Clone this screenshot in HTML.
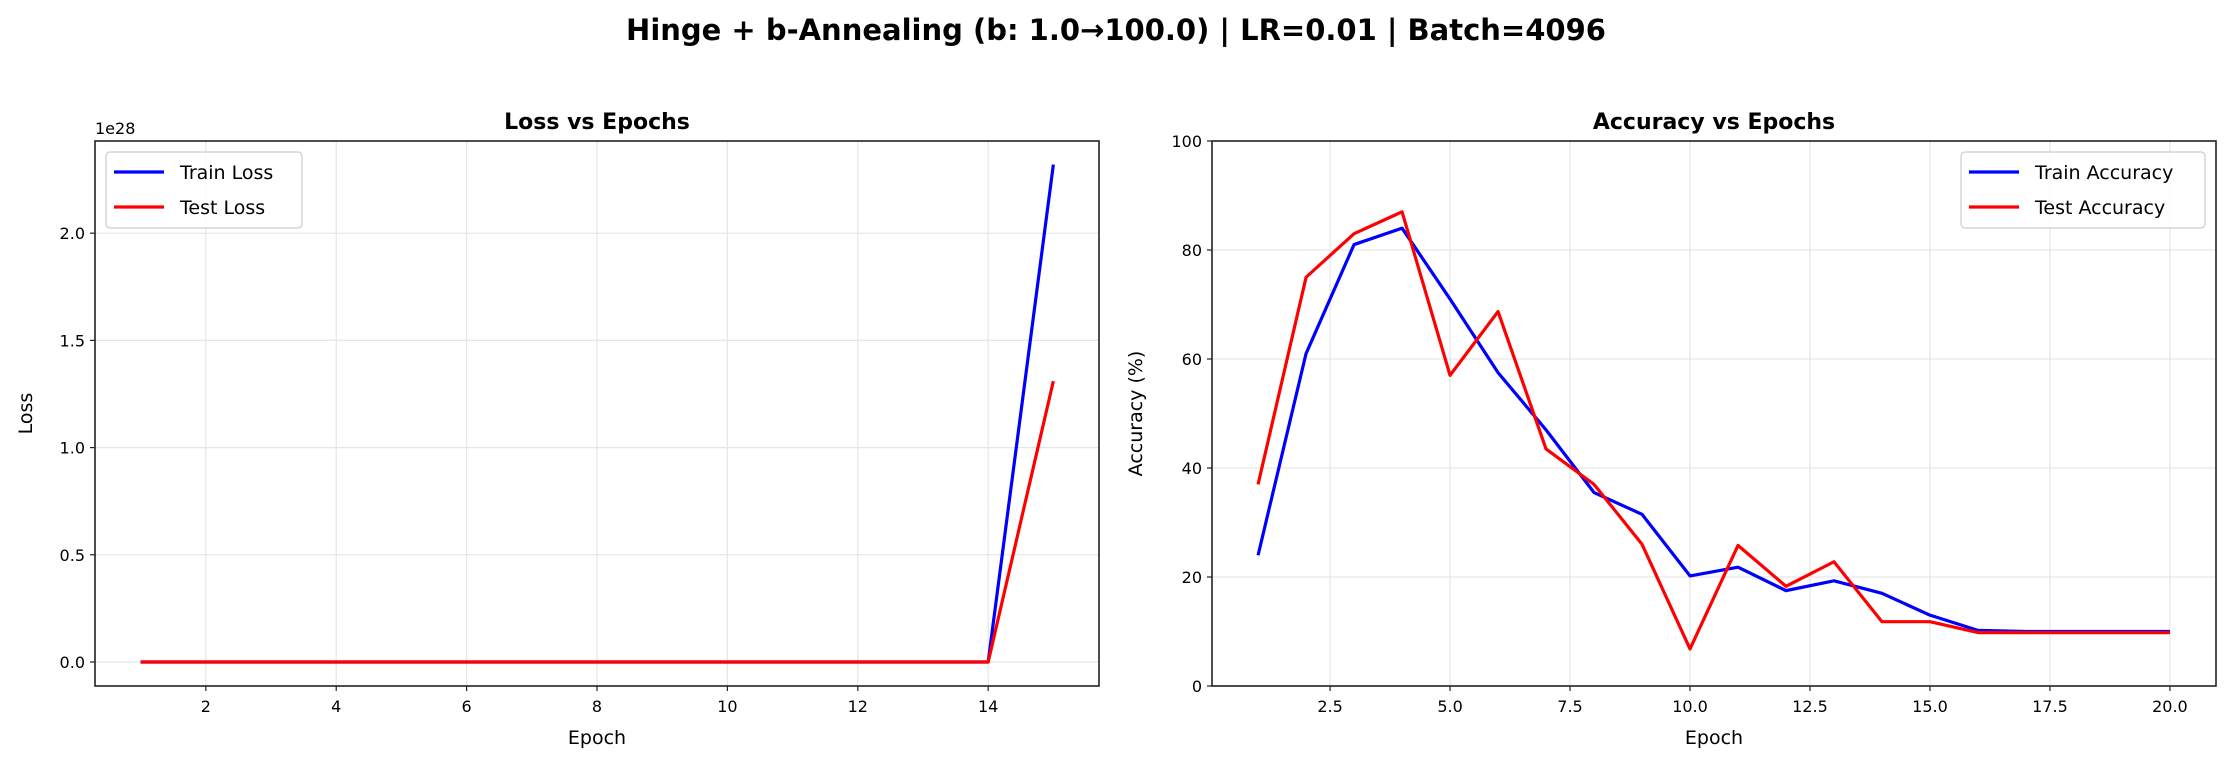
<!DOCTYPE html>
<html><head><meta charset="utf-8"><style>
body{margin:0;background:#fff}
svg{display:block;font-family:"DejaVu Sans","Liberation Sans",sans-serif}
</style></head><body>
<svg id="fig" width="2232" height="768" viewBox="0 0 2232 768" xmlns="http://www.w3.org/2000/svg">
<rect width="2232" height="768" fill="#fff"/>
<text x="1116" y="40" text-anchor="middle" font-size="29" font-weight="bold">Hinge + b-Annealing (b: 1.0→100.0) | LR=0.01 | Batch=4096</text>
<g id="loss"></g>
<g id="acc"></g>
</svg>
<script>
const lossEpochs=[1,2,3,4,5,6,7,8,9,10,11,12,13,14,15];
const trainLoss=[0,0,0,0,0,0,0,0,0,0,0,0,0,0,2.32];
const testLoss=[0,0,0,0,0,0,0,0,0,0,0,0,0,0,1.31];
const lossXTicks=[2,4,6,8,10,12,14];
const lossYTicks=[0,0.5,1.0,1.5,2.0];
const lossYTickLabels=["0.0","0.5","1.0","1.5","2.0"];
const accEpochs=[1,2,3,4,5,6,7,8,9,10,11,12,13,14,15,16,17,18,19,20];
const trainAcc=[24,61,81,84,71,57.5,47,35.5,31.5,20.2,21.8,17.5,19.3,17,13,10.2,10,10,10,10];
const testAcc=[37,75,83,87,57,68.7,43.5,37,26,6.8,25.8,18.3,22.8,11.8,11.8,9.8,9.8,9.8,9.8,9.8];
const accXTicks=[2.5,5.0,7.5,10.0,12.5,15.0,17.5,20.0];
const accXTickLabels=["2.5","5.0","7.5","10.0","12.5","15.0","17.5","20.0"];
const accYTicks=[0,20,40,60,80,100];
const NS="http://www.w3.org/2000/svg";
function mk(parent,tag,attrs,txt){const e=document.createElementNS(NS,tag);for(const k in attrs)e.setAttribute(k,attrs[k]);if(txt!==undefined)e.textContent=txt;parent.appendChild(e);return e;}
function chart(g,o){
  const sx=v=>o.x0+(v-o.xmin)/(o.xmax-o.xmin)*(o.x1-o.x0);
  const sy=v=>o.y1-(v-o.ymin)/(o.ymax-o.ymin)*(o.y1-o.y0);
  o.xt.forEach((t,i)=>{const x=sx(t);
    const gl=mk(g,'line',{x1:x,x2:x,y1:o.y0,y2:o.y1,stroke:'#e6e6e6','stroke-width':1.2});
    
    mk(g,'line',{x1:x,x2:x,y1:o.y1,y2:o.y1+5,stroke:'#222','stroke-width':1.2});
    const tl=mk(g,'text',{x:x,y:o.y1+26,'text-anchor':'middle','font-size':16},o.xl[i]);
    });
  o.yt.forEach((t,i)=>{const y=sy(t);
    const gl=mk(g,'line',{x1:o.x0,x2:o.x1,y1:y,y2:y,stroke:'#e6e6e6','stroke-width':1.2});
    
    mk(g,'line',{x1:o.x0-5,x2:o.x0,y1:y,y2:y,stroke:'#222','stroke-width':1.2});
    const tl=mk(g,'text',{x:o.x0-10,y:y+6,'text-anchor':'end','font-size':16},o.yl[i]);
    });
  o.series.forEach(s=>{
    const p=mk(g,'polyline',{points:o.xs.map((x,i)=>sx(x)+','+sy(s.v[i])).join(' '),fill:'none',stroke:s.c,'stroke-width':3.2,'stroke-linejoin':'round'});
    });
  const fr=mk(g,'rect',{x:o.x0,y:o.y0,width:o.x1-o.x0,height:o.y1-o.y0,fill:'none',stroke:'#222','stroke-width':1.6});
  
  const t=mk(g,'text',{x:(o.x0+o.x1)/2,y:o.y0-12,'text-anchor':'middle','font-size':22,'font-weight':'bold'},o.title);
  
  const xl=mk(g,'text',{x:(o.x0+o.x1)/2,y:o.y1+58,'text-anchor':'middle','font-size':19},'Epoch');
  
  const yl=mk(g,'text',{x:0,y:0,'text-anchor':'middle','font-size':19,transform:`translate(${o.ylx},${(o.y0+o.y1)/2}) rotate(-90)`},o.ylabel);
  
  const lg=mk(g,'g',{});
  mk(lg,'rect',{x:o.lx,y:o.y0+11,width:o.lw,height:76,rx:4,fill:'#fff','fill-opacity':0.8,stroke:'#ccc','stroke-width':1.2});
  o.series.forEach((s,i)=>{const y=o.y0+31+i*35;
    const e=mk(lg,'g',{});
    mk(e,'line',{x1:o.lx+8,x2:o.lx+58,y1:y,y2:y,stroke:s.c,'stroke-width':3.2});
    mk(e,'text',{x:o.lx+74,y:y+7,'font-size':19},s.label);});
  return {sx,sy};
}
const lg=document.getElementById('loss');
chart(lg,{x0:95,x1:1099,y0:141,y1:686,xmin:0.3,xmax:15.7,ymin:-0.112,ymax:2.43,xs:lossEpochs,xt:lossXTicks,xl:lossXTicks.map(String),yt:lossYTicks,yl:lossYTickLabels,
  series:[{v:trainLoss,c:'#0000ff',n:'train-loss-line',label:'Train Loss'},{v:testLoss,c:'#ff0000',n:'test-loss-line',label:'Test Loss'}],
  title:'Loss vs Epochs',ylabel:'Loss',ylx:32,lx:106,lw:196});
const ex=mk(lg,'text',{x:95,y:134,'font-size':16},'1e28');

chart(document.getElementById('acc'),{x0:1212,x1:2216,y0:141,y1:686,xmin:0.04,xmax:20.96,ymin:0,ymax:100,xs:accEpochs,xt:accXTicks,xl:accXTickLabels,yt:accYTicks,yl:accYTicks.map(String),
  series:[{v:trainAcc,c:'#0000ff',n:'train-accuracy-line',label:'Train Accuracy'},{v:testAcc,c:'#ff0000',n:'test-accuracy-line',label:'Test Accuracy'}],
  title:'Accuracy vs Epochs',ylabel:'Accuracy (%)',ylx:1142,lx:1961,lw:244});
</script>
</body></html>
